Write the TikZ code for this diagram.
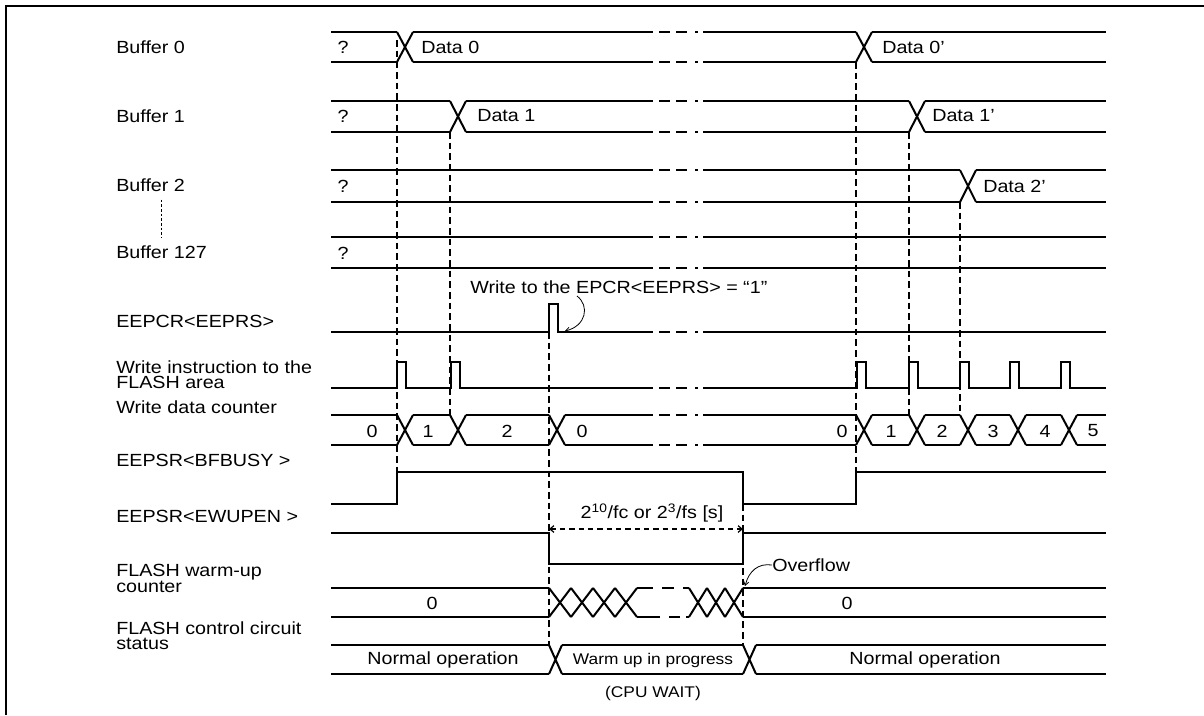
\documentclass[tikz,border=0pt]{standalone}
\usepackage{fontspec}
\setmainfont{Liberation Sans}[FakeStretch=1.12]
\usetikzlibrary{arrows.meta}

\newcommand\lblfont{\fontsize{13.2pt}{11.6pt}\selectfont}
\newcommand\smlfont{\fontsize{11.6pt}{12pt}\selectfont}

% flat bus lines, crossings and the dash-dot break
\newcommand\busflat[3]{\foreach \p/\q in {#3} {\draw[sig] (\p,#1) -- (\q,#1) (\p,#2) -- (\q,#2);}}
\newcommand\buscross[4]{\foreach \c in {#4} {\draw[sig] (\c,#1) -- (\c+#3,#2) (\c,#2) -- (\c+#3,#1);}}
\newcommand\busbrk[1]{\draw[sig] (659,#1) -- (670,#1) (676,#1) -- (687,#1) (695,#1) -- (698,#1);}

\begin{document}
\begin{tikzpicture}[
  x=0.75pt, y=-0.75pt,
  every node/.style={inner sep=0pt},
  lbl/.style={anchor=west, align=left, font=\lblfont},
  val/.style={font=\lblfont},
  sig/.style={line width=1.5pt},
  guide/.style={line width=0.9pt, dash pattern=on 5pt off 3pt},
  dots/.style={line width=0.5pt, dash pattern=on 2pt off 1.5pt},
  callout/.style={line width=0.6pt, -{Straight Barb[length=3pt,width=4pt]}},
  dim/.style={line width=0.9pt, dash pattern=on 4pt off 3pt,
    {Straight Barb[length=3pt,width=5pt]}-{Straight Barb[length=3pt,width=5pt]}}]

  \useasboundingbox (0,0) rectangle (1204,715);
  \draw[line width=1.5pt] (6,715) -- (6,6) -- (1204,6);

  % signal names
  \node[lbl] (nb0)   at (116,47)  {Buffer 0};
  \node[lbl] (nb1)   at (116,116) {Buffer 1};
  \node[lbl] (nb2)   at (116,185) {Buffer 2};
  \node[lbl] (nb127) at (116,252) {Buffer 127};
  \node[lbl] (nprs)  at (116,321) {EEPCR<EEPRS>};
  \node[lbl] (nwr)   at (116,374.5) {Write instruction to the\\FLASH area};
  \node[lbl] (ncnt)  at (116,407) {Write data counter};
  \node[lbl] (nbsy)  at (116,460) {EEPSR<BFBUSY >};
  \node[lbl] (nwup)  at (116,516) {EEPSR<EWUPEN >};
  \node[lbl] (nwuc)  at (116,578.5) {FLASH warm-up\\counter};
  \node[lbl] (nst)   at (116,635.5) {FLASH control circuit\\status};
  \draw[dots, shorten <=6pt, shorten >=6pt] (nb2.south -| nb127.north) -- (nb127.north);

  % buffers
  \busflat{32}{62}{331/397, 413/653, 703/856, 872/1106}
  \buscross{32}{62}{16}{397,856}
  \busflat{101}{132}{331/450, 466/653, 703/909, 925/1106}
  \buscross{101}{132}{16}{450,909}
  \busflat{170}{202}{331/653, 703/960, 976/1106}
  \buscross{170}{202}{16}{960}
  \busflat{237}{268}{331/653, 703/1106}
  \foreach \y in {32,62,101,132,170,202,237,268} {\busbrk{\y}}

  \foreach \y in {47,116,186,253} {\node[val] at (343,\y) {?};}
  \node[val, anchor=west] (d0)  at (421,47)  {Data 0};
  \node[val, anchor=west] (d1)  at (477,116) {Data 1};
  \node[val, anchor=west] (d0b) at (882,47)  {Data 0’};
  \node[val, anchor=west] (d1b) at (932,116) {Data 1’};
  \node[val, anchor=west] (d2b) at (983,186) {Data 2’};

  % EEPCR<EEPRS>
  \draw[sig] (331,332) -- (549,332) -- (549,304) -- (558,304) -- (558,332) -- (653,332)
    (703,332) -- (1106,332);
  \busbrk{332}
  \node[val, anchor=west] (wnote) at (470,287) {Write to the EPCR<EEPRS> = “1”};
  \coordinate (wfrom) at (577,296);
  \coordinate (wtip)  at (565,331);
  \draw[callout] (wfrom) .. controls (590,306) and (586,326) .. (wtip);

  % write instruction
  \draw[sig] (331,388) foreach \p in {397,451} { -- (\p,388) -- (\p,362) -- (\p+9,362) -- (\p+9,388) } -- (653,388);
  \draw[sig] (703,388) foreach \p in {857,909,960,1010,1061} { -- (\p,388) -- (\p,362) -- (\p+9,362) -- (\p+9,388) } -- (1106,388);
  \busbrk{388}

  % write data counter
  \busflat{415}{445}{331/397, 413/450, 466/549, 565/653, 703/856, 872/909, 925/960, 976/1010, 1026/1061, 1077/1106}
  \buscross{415}{445}{16}{397,450,549,856,909,960,1010,1061}
  \busbrk{415}\busbrk{445}
  \foreach \x/\v in {372/0, 428/1, 507/2, 582/0, 842/0, 891/1, 942/2, 993/3, 1045/4, 1093/5}
    {\node[val] at (\x,431) {\v};}

  % BFBUSY and EWUPEN
  \draw[sig] (331,504) -- (397,504) -- (397,472) -- (743,472) -- (743,504) -- (856,504) -- (856,472) -- (1106,472);
  \draw[sig] (331,533) -- (549,533) -- (549,564) -- (743,564) -- (743,533) -- (1106,533);
  \coordinate (dl) at (549,529);
  \coordinate (dr) at (743,529);
  \draw[dim] (dl) -- (dr);
  \node[val] (dimlbl) at (652,513) {2\textsuperscript{10}/fc or 2\textsuperscript{3}/fs [s]};

  % warm-up counter
  \busflat{588}{617}{331/549, 743/1106}
  \buscross{588}{617}{22}{549,571,593,615}
  \buscross{588}{617}{18}{689,707,725}
  \draw[sig] (637,588) -- (653,588) (662,588) -- (674,588) (683,588) -- (689,588)
    (637,617) -- (660,617) (669,617) -- (680,617) (686,617) -- (689,617);
  \node[val] at (432,603) {0};
  \node[val] at (847,603) {0};
  \node[val, anchor=west] (ovf) at (772,565) {Overflow};
  \coordinate (otip) at (745,586);
  \draw[callout] (ovf.west) .. controls (758,563) and (749,571) .. (otip);

  % control circuit status
  \busflat{645}{674}{331/549, 562/743, 756/1106}
  \buscross{645}{674}{13}{549,743}
  \node[val] (st1) at (443,660) {Normal operation};
  \node[font=\smlfont] (st2) at (653,660) {Warm up in progress};
  \node[font=\smlfont] (st3) at (653,693) {(CPU WAIT)};
  \node[val] (st4) at (925,660) {Normal operation};

  % timing guides
  \foreach \x/\ya/\yb in {397/40/472, 450/132/415, 549/332/645, 743/504/645, 856/62/472, 909/132/415, 960/202/415}
    {\draw[guide] (\x,\ya) -- (\x,\yb);}

\end{tikzpicture}
\end{document}
